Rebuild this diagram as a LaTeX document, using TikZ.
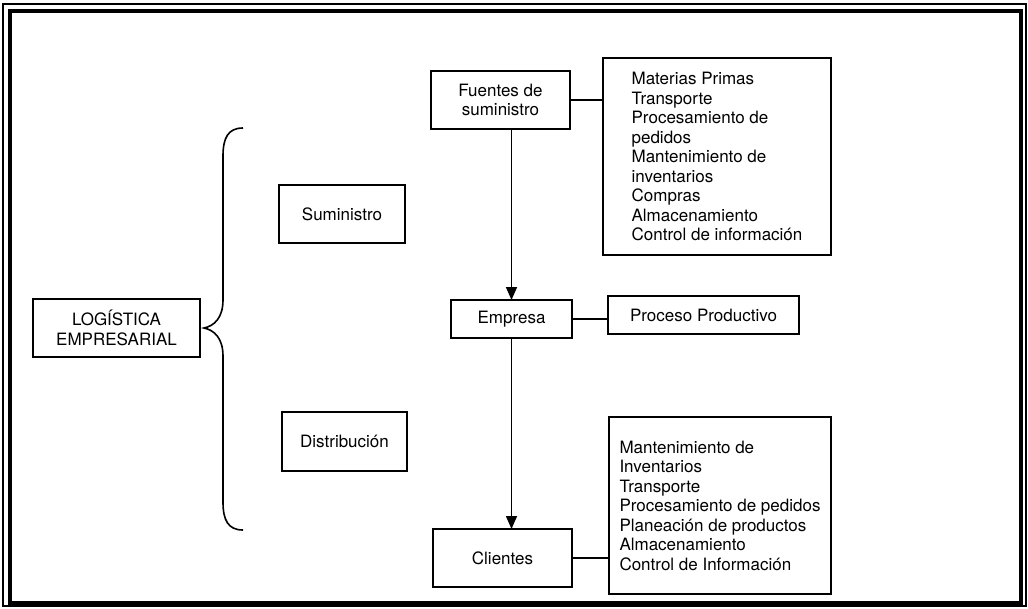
\documentclass[tikz,border=0pt]{standalone}
\usepackage{fontspec}
\setmainfont{TeX Gyre Heros}
\usetikzlibrary{arrows.meta}

\tikzset{
  caja/.style={draw, line width=1.6pt, inner sep=0pt, outer sep=0pt, align=center},
  lista/.style={caja, align=left},
  enlace/.style={line width=1.6pt},
  flecha/.style={line width=1.6pt, -{Triangle[length=13pt,width=11pt]}}
}

\begin{document}
\begin{tikzpicture}[x=1pt,y=-1pt,font=\fontsize{17}{19.5}\selectfont]
  \useasboundingbox (0,0) rectangle (1028,608);
  % marco doble
  \draw[line width=1.4pt] (3,4) rectangle (1026,606);
  \draw[line width=4.5pt] (10,11) rectangle (1021,603);

  % columna izquierda
  \node[caja, minimum width=167pt, minimum height=58pt] (logistica) at (116.5,328) {LOGÍSTICA\\EMPRESARIAL};
  \node[caja, minimum width=126pt, minimum height=58pt] (suministro) at (342,214) {Suministro};
  \node[caja, minimum width=125pt, minimum height=59pt] (distribucion) at (344.5,441.5) {Distribución};

  % llave
  \coordinate (punta) at (204,328);
  \draw[enlace] (243,128) .. controls (228,128) and (223,138) .. (223,156) -- (223,300)
    .. controls (223,318) and (214,326) .. (punta)
    .. controls (214,330) and (223,338) .. (223,356) -- (223,502)
    .. controls (223,520) and (228,530) .. (243,530);

  % columna central
  \node[caja, minimum width=139pt, minimum height=58pt] (fuentes) at (500.5,100) {Fuentes de\\suministro};
  \node[caja, minimum width=121pt, minimum height=38pt] (empresa) at (511.5,319) {Empresa};
  \node[caja, minimum width=139pt, minimum height=58pt] (clientes) at (502.5,558) {Clientes};

  % columna derecha
  \node[lista, minimum width=228pt, minimum height=197pt] (actfuentes) at (717,156.5)
    {Materias Primas\\Transporte\\Procesamiento de\\pedidos\\Mantenimiento de\\inventarios\\Compras\\Almacenamiento\\Control de información};
  \node[caja, minimum width=191pt, minimum height=38pt] (proceso) at (703.5,315) {Proceso Productivo};
  \node[lista, minimum width=222pt, minimum height=177pt] (actclientes) at (720,505.5)
    {Mantenimiento de\\Inventarios\\Transporte\\Procesamiento de pedidos\\Planeación de productos\\Almacenamiento\\Control de Información};

  % conexiones
  \draw[flecha] (empresa.north |- fuentes.south) -- (empresa.north);
  \draw[flecha] (empresa.south) -- (empresa.south |- clientes.north);
  \draw[enlace] (fuentes.east) -- (fuentes.east -| actfuentes.west);
  \draw[enlace] (empresa.east) -- (empresa.east -| proceso.west);
  \draw[enlace] (clientes.east) -- (clientes.east -| actclientes.west);
\end{tikzpicture}
\end{document}
